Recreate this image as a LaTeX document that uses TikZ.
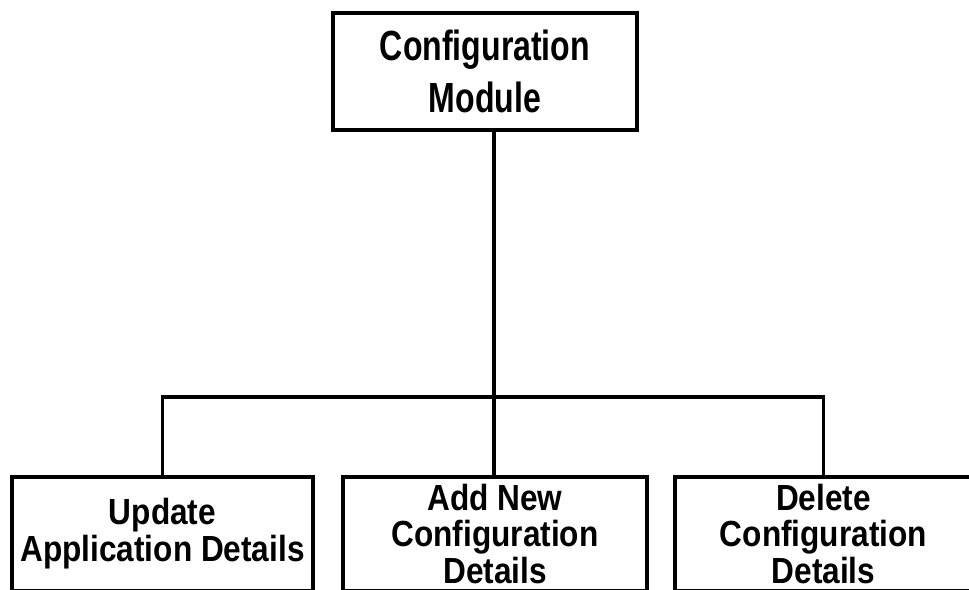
\documentclass[tikz,border=0pt]{standalone}
\usepackage{fontspec}
\setmainfont{Liberation Sans}
\newfontfamily\topfont{Liberation Sans}[FakeStretch=0.76]
\newfontfamily\subfont{Liberation Sans}[FakeStretch=0.87]
\usepackage{tikz}
\usetikzlibrary{positioning}

\tikzset{
  modbox/.style={draw, line width=3.4pt, align=center, inner sep=0pt,
    font=\topfont\bfseries\fontsize{36}{45}\selectfont},
  subbox/.style={modbox, minimum height=3.42cm,
    font=\subfont\bfseries\fontsize{31}{31.5}\selectfont},
  link/.style={line width=2.6pt}
}

\begin{document}
\begin{tikzpicture}[x=0.03cm, y=-0.03cm]

    % Page frame
    \useasboundingbox (0,0) rectangle (969,590);
    \clip (0,0) rectangle (969,590);

    % Main module
    \node[modbox, minimum width=9.12cm, minimum height=3.51cm] (config) at (485,71.5)
        {Configuration\\Module};

    % Sub modules
    \node[subbox, minimum width=9.03cm] (update) at (162.5,534)
        {Update\\Application Details};
    \node[subbox, minimum width=9.12cm] (addnew) at (495,534)
        {Add New\\Configuration\\Details};
    \node[subbox, minimum width=8.91cm] (delete) at (823.5,534)
        {Delete\\Configuration\\Details};

    % Branch point
    \coordinate (fork) at (494,397);

    % Connectors
    \draw[link] (config.south -| fork) -- (fork);
    \draw[link] (update.north) |- (fork) -| (delete.north);
    \draw[link] (fork) -- (addnew.north -| fork);

\end{tikzpicture}
\end{document}
